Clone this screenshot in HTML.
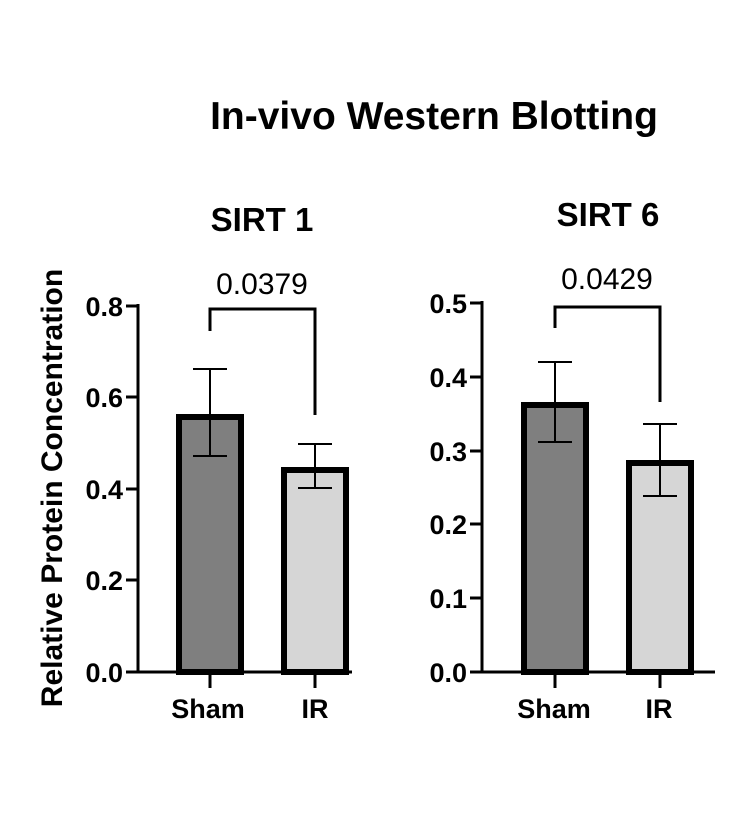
<!DOCTYPE html>
<html><head><meta charset="utf-8"><style>body{margin:0;background:#fff}</style></head><body>
<svg width="752" height="808" xmlns="http://www.w3.org/2000/svg" font-family="Liberation Sans, Arial, sans-serif">
<rect width="752" height="808" fill="#fff"/>
<text x="434" y="129" font-size="39" font-weight="bold" text-anchor="middle">In-vivo Western Blotting</text>
<text x="262" y="231" font-size="33" font-weight="bold" text-anchor="middle">SIRT 1</text>
<text x="608" y="226" font-size="33" font-weight="bold" text-anchor="middle">SIRT 6</text>
<text transform="translate(62,488) rotate(-90)" font-size="30" font-weight="bold" text-anchor="middle">Relative Protein Concentration</text>
<g stroke="#000" fill="none">
<path d="M138,304 V672 H352" stroke-width="3"/>
<path d="M126,306H138M126,397H138M126,489H138M126,580H138M126,672H138" stroke-width="3"/>
<path d="M210,672V688M315,672V688" stroke-width="3"/>
<rect x="179" y="417" width="62" height="255" fill="#7f7f7f" stroke-width="6"/>
<rect x="284" y="470" width="62" height="202" fill="#d6d6d6" stroke-width="6"/>
<path d="M210,369V456M193,369H227M193,456H227" stroke-width="2"/>
<path d="M315,444V488M298,444H332M298,488H332" stroke-width="2"/>
<path d="M210,331V309H315V415" stroke-width="3"/>
<path d="M482,301 V672 H715" stroke-width="3"/>
<path d="M470,303H482M470,377H482M470,451H482M470,524H482M470,598H482M470,672H482" stroke-width="3"/>
<path d="M555,672V688M660,672V688" stroke-width="3"/>
<rect x="524" y="405" width="62" height="267" fill="#7f7f7f" stroke-width="6"/>
<rect x="629" y="463" width="62" height="209" fill="#d6d6d6" stroke-width="6"/>
<path d="M555,362V442M538,362H572M538,442H572" stroke-width="2"/>
<path d="M660,424V496M643,424H677M643,496H677" stroke-width="2"/>
<path d="M555,328V307H660V402" stroke-width="3"/>
</g>
<g font-size="27" font-weight="bold" text-anchor="end">
<text x="123" y="316">0.8</text><text x="123" y="407">0.6</text><text x="123" y="499">0.4</text><text x="123" y="590">0.2</text><text x="123" y="682">0.0</text>
<text x="467" y="313">0.5</text><text x="467" y="387">0.4</text><text x="467" y="461">0.3</text><text x="467" y="534">0.2</text><text x="467" y="608">0.1</text><text x="467" y="682">0.0</text>
</g>
<g font-size="27" font-weight="bold" text-anchor="middle">
<text x="208" y="718">Sham</text><text x="315" y="718">IR</text>
<text x="554" y="718">Sham</text><text x="659" y="718">IR</text>
</g>
<g font-size="30" text-anchor="middle">
<text x="262" y="294">0.0379</text><text x="607" y="289">0.0429</text>
</g>
</svg>
</body></html>
